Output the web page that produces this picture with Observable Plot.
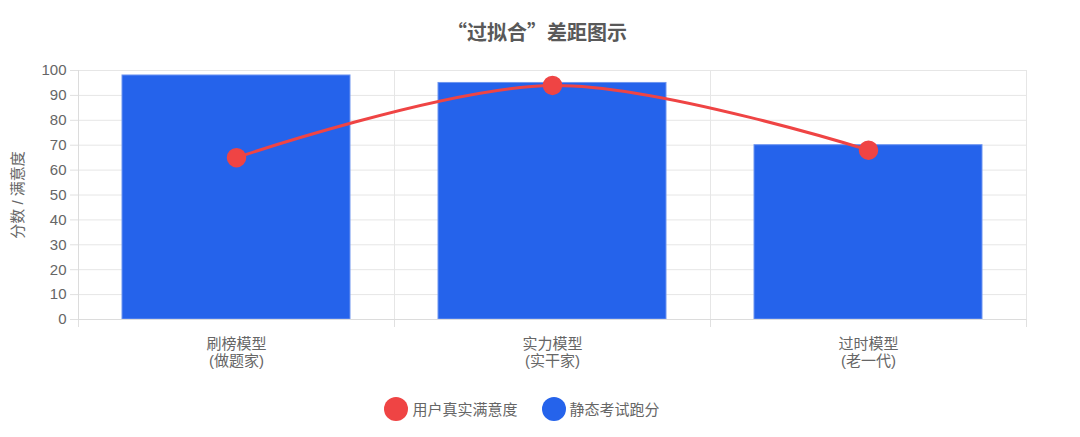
<!DOCTYPE html>
<html>
<head>
<meta charset="utf-8">
<script src="https://cdn.jsdelivr.net/npm/d3@7"></script>
<script src="https://cdn.jsdelivr.net/npm/@observablehq/plot@0.6"></script>
<style>
  html, body { margin: 0; padding: 0; background: #fff; }
  body { width: 1080px; height: 437px; overflow: hidden; font-family: "Liberation Sans", "Noto Sans CJK SC", sans-serif; }
  #title { height: 55px; box-sizing: border-box; padding-top: 21px; text-align: center; font-family: "Noto Sans CJK SC", sans-serif; font-size: 20px; line-height: 22px; font-weight: bold; color: #595959; padding-right: 6px; }
  #legend { height: 57px; display: flex; justify-content: center; align-items: center; gap: 24px; font-size: 15px; color: #666; padding-right: 36px; }
  .item { display: flex; align-items: center; gap: 4px; }
  .sw { width: 24px; height: 24px; border-radius: 50%; display: inline-block; }
</style>
</head>
<body>
<div id="title">“过拟合”差距图示</div>
<div id="chart"></div>
<div id="legend"></div>
<script>
const categories = ["刷榜模型\n(做题家)", "实力模型\n(实干家)", "过时模型\n(老一代)"];
const staticScores = [98, 95, 70];
const satisfaction = [65, 94, 68];
const seriesNames = ["用户真实满意度", "静态考试跑分"];
const seriesColors = ["#ef4444", "#2563eb"];
const yTicks = [0, 10, 20, 30, 40, 50, 60, 70, 80, 90, 100];

const rows = categories.map((c, i) => ({i, c, score: staticScores[i], sat: satisfaction[i]}));
const boundaries = d3.range(categories.length + 1);
const centers = categories.map((c, i) => i + 0.5);

const chart = Plot.plot({
  width: 1080,
  height: 325,
  marginTop: 15,
  marginBottom: 61,
  marginLeft: 78,
  marginRight: 54,
  style: {fontFamily: '"Liberation Sans", "Noto Sans CJK SC", sans-serif', fontSize: "15px", color: "#666"},
  x: {domain: [0, categories.length]},
  y: {domain: [0, 100]},
  marks: [
    Plot.ruleY(yTicks, {stroke: "#e6e6e6", strokeWidth: 1}),
    Plot.ruleX(boundaries, {stroke: "#e6e6e6", strokeWidth: 1, y1: 0, y2: 100}),
    Plot.axisY(yTicks, {tickSize: 8, tickPadding: 4, stroke: "#e0e0e0", fill: "#666", fontSize: 15, label: null}),
    Plot.axisX(boundaries, {tickSize: 8, stroke: "#e0e0e0", tickFormat: () => "", label: null}),
    Plot.axisX(centers, {tickSize: 0, tickPadding: 17, tickFormat: (d) => categories[Math.floor(d)], fill: "#666", fontSize: 15, lineHeight: 1.15, label: null}),
    Plot.rectY(rows, {x1: "i", x2: (d) => d.i + 1, y: "score", fill: "#2563eb", stroke: "#6e95f0", strokeWidth: 1, insetLeft: 44, insetRight: 44}),
    Plot.ruleY([0], {stroke: "#dcdcdc"}),
    Plot.ruleX([0], {stroke: "#dcdcdc", y1: 0, y2: 100}),
    Plot.line(rows, {x: (d) => d.i + 0.5, y: "sat", stroke: "#ef4444", strokeWidth: 3, curve: "catmull-rom"}),
    Plot.dot(rows, {x: (d) => d.i + 0.5, y: "sat", r: 9, fill: "#ef4444", stroke: "#ef4444"}),
    Plot.text(["分数 / 满意度"], {frameAnchor: "left", textAnchor: "middle", rotate: -90, dx: -60, fill: "#666", fontSize: 15})
  ]
});
document.getElementById("chart").appendChild(chart);

const legend = document.getElementById("legend");
seriesNames.forEach((n, k) => {
  const it = document.createElement("div");
  it.className = "item";
  it.innerHTML = `<span class="sw" style="background:${seriesColors[k]}"></span><span>${n}</span>`;
  legend.appendChild(it);
});
</script>
</body>
</html>
